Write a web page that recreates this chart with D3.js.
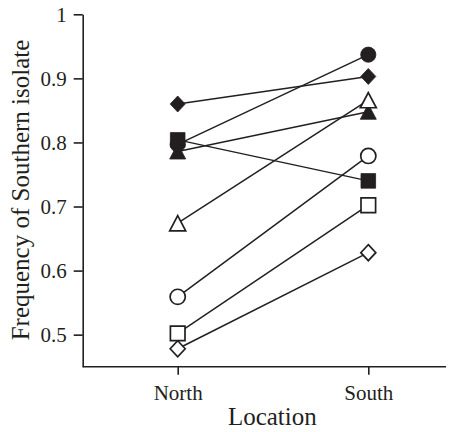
<!DOCTYPE html>
<html>
<head>
<meta charset="utf-8">
<script src="https://cdn.jsdelivr.net/npm/d3@7"></script>
<style>
  body { margin: 0; background: #fff; }
</style>
</head>
<body>
<div id="chart"></div>
<script>
// data
const locations = ["North", "South"];
const seriesNames = ["filledDiamond", "filledSquare", "filledCircle", "filledTriangle",
                     "openTriangle", "openCircle", "openSquare", "openDiamond"];
const northValues = [0.860, 0.804, 0.797, 0.786, 0.674, 0.559, 0.502, 0.478];
const southValues = [0.903, 0.740, 0.937, 0.848, 0.866, 0.779, 0.702, 0.628];
const yTicks = [0.5, 0.6, 0.7, 0.8, 0.9, 1];

const width = 459, height = 432;
const margin = { top: 14.3, left: 82.7, bottom: 65.3, right: 13 };
const ink = "#231f20";
const serif = "'Liberation Serif', 'Times New Roman', Times, serif";

const svg = d3.select("#chart").append("svg")
    .attr("width", width)
    .attr("height", height)
    .attr("font-family", serif);

// scales
const y = d3.scaleLinear()
    .domain([0.45, 1])
    .range([height - margin.bottom, margin.top]);
const x = d3.scalePoint()
    .domain(locations)
    .range([177.7, 368.3]);

// y axis
const yAxis = g => g
    .attr("transform", `translate(${margin.left},0)`)
    .call(d3.axisLeft(y).tickValues(yTicks).tickSize(9).tickSizeOuter(0).tickPadding(7)
        .tickFormat(d => d === 1 ? "1" : d.toFixed(1)))
    .attr("font-family", serif)
    .attr("font-size", 21)
    .call(g => g.selectAll("path, line").attr("stroke", ink).attr("stroke-width", 1.6))
    .call(g => g.selectAll("text").attr("fill", ink));
svg.append("g").call(yAxis);

// x axis
const xAxis = g => g
    .attr("transform", `translate(0,${height - margin.bottom})`)
    .call(d3.axisBottom(x).tickSize(8).tickSizeOuter(0))
    .attr("font-family", serif)
    .attr("font-size", 21)
    .call(g => g.select(".domain").remove())
    .call(g => g.selectAll("line").attr("stroke", ink).attr("stroke-width", 1.6))
    .call(g => g.selectAll("text").attr("y", 33.5).attr("dy", null).attr("fill", ink));
svg.append("g").call(xAxis);
svg.append("line")
    .attr("x1", margin.left).attr("x2", width - margin.right)
    .attr("y1", height - margin.bottom).attr("y2", height - margin.bottom)
    .attr("stroke", ink).attr("stroke-width", 1.6);

// axis titles
svg.append("text")
    .attr("x", (margin.left + width - margin.right) / 2 + 8)
    .attr("y", 425)
    .attr("text-anchor", "middle")
    .attr("font-size", 25)
    .attr("fill", ink)
    .text("Location");
svg.append("text")
    .attr("transform", `translate(29,${(35 + 345) / 2}) rotate(-90)`)
    .attr("text-anchor", "middle")
    .attr("font-size", 25)
    .attr("fill", ink)
    .text("Frequency of Southern isolate");

const data = seriesNames.map((name, i) => ({
    name,
    values: [northValues[i], southValues[i]]
}));

// lines
svg.append("g").selectAll("line.pair")
    .data(data)
    .join("line")
    .attr("class", "pair")
    .attr("x1", x("North")).attr("x2", x("South"))
    .attr("y1", d => y(d.values[0])).attr("y2", d => y(d.values[1]))
    .attr("stroke", ink).attr("stroke-width", 1.5);

// marker shapes
function shapePath(name) {
    if (name.endsWith("Diamond")) return "M0,-8L7.5,0L0,8L-7.5,0Z";
    if (name.endsWith("Square")) return "M-7.3,-7.3H7.3V7.3H-7.3Z";
    if (name.endsWith("Triangle")) return "M0,-7.6L8,7.6L-8,7.6Z";
    return d3.arc()({ innerRadius: 0, outerRadius: 7.6, startAngle: 0, endAngle: 2 * Math.PI });
}

// draw order so overlaps look like the reference
const drawOrder = ["openDiamond", "openSquare", "openCircle", "filledTriangle", "filledCircle",
                   "filledSquare", "filledDiamond", "openTriangle"];
const points = [];
drawOrder.forEach(name => {
    const d = data.find(s => s.name === name);
    locations.forEach((loc, j) => points.push({ name, loc, v: d.values[j] }));
});

svg.append("g").selectAll("path.marker")
    .data(points)
    .join("path")
    .attr("class", "marker")
    .attr("d", d => shapePath(d.name))
    .attr("transform", d => `translate(${x(d.loc)},${y(d.v)})`)
    .attr("fill", d => d.name.startsWith("filled") ? ink : "#fff")
    .attr("stroke", ink)
    .attr("stroke-width", d => d.name.startsWith("filled") ? 0.8 : 1.7)
    .attr("stroke-linejoin", "miter");
</script>
</body>
</html>
